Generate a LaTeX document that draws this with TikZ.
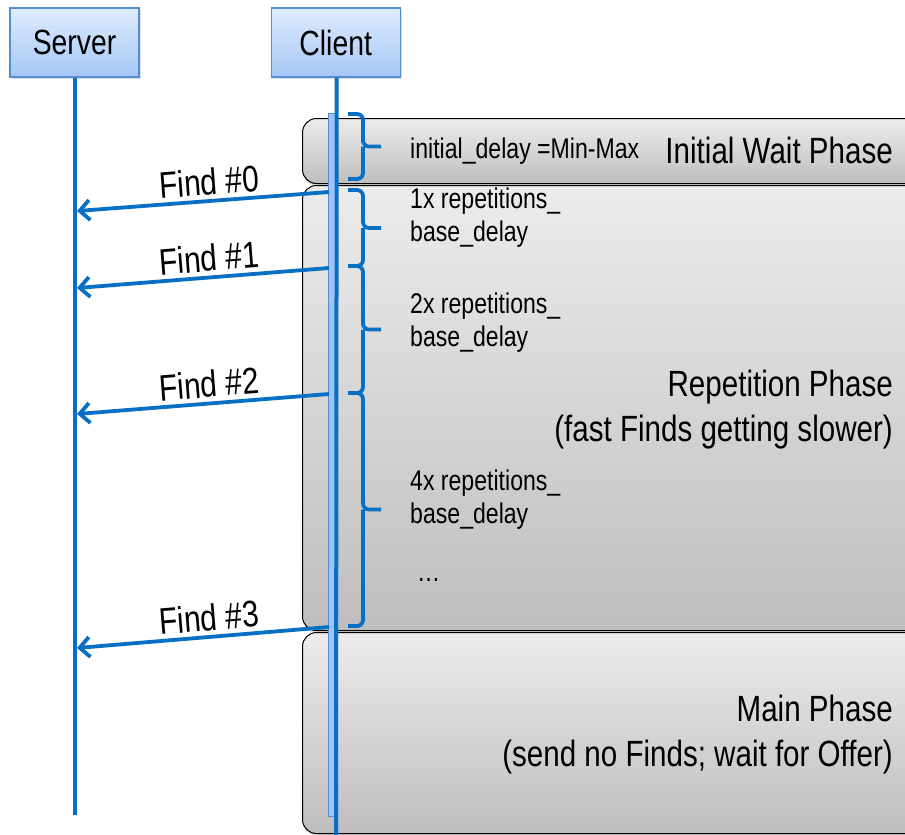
\documentclass[tikz,border=0pt]{standalone}
\usepackage{fontspec}
\setmainfont{Liberation Sans}[FakeStretch=0.81]
\usetikzlibrary{arrows.meta,positioning,shadows}

\definecolor{msgblue}{RGB}{8,112,196}
\definecolor{boxedge}{RGB}{84,141,212}
\definecolor{boxtop}{RGB}{224,236,252}
\definecolor{boxbot}{RGB}{164,198,246}
\definecolor{barfill}{RGB}{160,196,250}
\definecolor{phasetop}{RGB}{236,236,236}
\definecolor{phasebot}{RGB}{190,190,190}

\begin{document}
\begin{tikzpicture}[x=1pt,y=-1pt,
  actor/.style={draw=boxedge,line width=1.2pt,top color=boxtop,bottom color=boxbot,minimum width=129pt,minimum height=69pt,inner sep=0pt,font=\fontsize{35}{40}\selectfont,drop shadow={opacity=0.25,shadow xshift=1.5pt,shadow yshift=-1.5pt}},
  phase/.style={draw=black,line width=1pt,rounded corners=14pt,top color=phasetop,bottom color=phasebot,minimum width=640pt,anchor=north west,inner sep=0pt,drop shadow={opacity=0.3,shadow xshift=0pt,shadow yshift=-2pt}},
  life/.style={msgblue,line width=4pt},
  msg/.style={msgblue,line width=3.8pt,-{Straight Barb[length=10pt,width=20pt]}},
  curly/.style={msgblue,line width=3.8pt,rounded corners=6pt},
  big/.style={font=\fontsize{36.5}{45}\selectfont,align=right,anchor=east,inner sep=0pt},
  small/.style={font=\fontsize{28.5}{33}\selectfont,align=left,anchor=west,inner sep=0pt},
  lbl/.style={text=black,font=\fontsize{37}{40}\selectfont,sloped,above=4pt,inner sep=0pt,pos=0.47}]
\clip (0,0) rectangle (905,835);

% phases behind everything
\node[phase,minimum height=65pt] (wait) at (302,118) {};
\node[phase,minimum height=445pt] (rep) at (302,185) {};
\node[phase,minimum height=201pt] (main) at (302,632) {};

\node[actor] (srv) at (74.5,42.5) {Server};
\node[actor,right=131pt of srv] (cli) {Client};
\draw[life] (srv.south) -- (srv.south |- 0,815);
\draw[boxedge,fill=barfill,line width=0.8pt] (328,113) rectangle (336,816);
\draw[life] (cli.south) ++(1pt,0) -- (336,835);

% braces for the delays
\foreach \ya/\yb in {114/179,190/266,266/393,393/626}
  \draw[curly] (348,\ya) -- (363,\ya) -- (363,{(\ya+\yb)/2}) -- (381,{(\ya+\yb)/2})
               (363,{(\ya+\yb)/2}) -- (363,\yb) -- (348,\yb);

\coordinate (c0) at (329,192); \coordinate (s0) at (77,211);
\coordinate (c1) at (329,268); \coordinate (s1) at (77,288);
\coordinate (c2) at (329,394); \coordinate (s2) at (77,414);
\coordinate (c3) at (329,627); \coordinate (s3) at (77,648);
\draw[msg] (c0) -- node[lbl] {Find \#0} (s0);
\draw[msg] (c1) -- node[lbl] {Find \#1} (s1);
\draw[msg] (c2) -- node[lbl] {Find \#2} (s2);
\draw[msg] (c3) -- node[lbl] {Find \#3} (s3);

\node[small] (initd) at (410,151) {initial\_delay =Min-Max};
\node[small] (rep1) at (410,218) {1x repetitions\_\\base\_delay};
\node[small] (rep2) at (410,323) {2x repetitions\_\\base\_delay};
\node[small] (rep4) at (410,500) {4x repetitions\_\\base\_delay};
\node[small,anchor=base west] (more) at (417,581) {\dots};

\node[big] (waitlbl) at (893,150) {Initial Wait Phase};
\node[big] (replbl) at (893,410) {Repetition Phase\\(fast Finds getting slower)};
\node[big] (mainlbl) at (893,735) {Main Phase\\(send no Finds; wait for Offer)};
\end{tikzpicture}
\end{document}
